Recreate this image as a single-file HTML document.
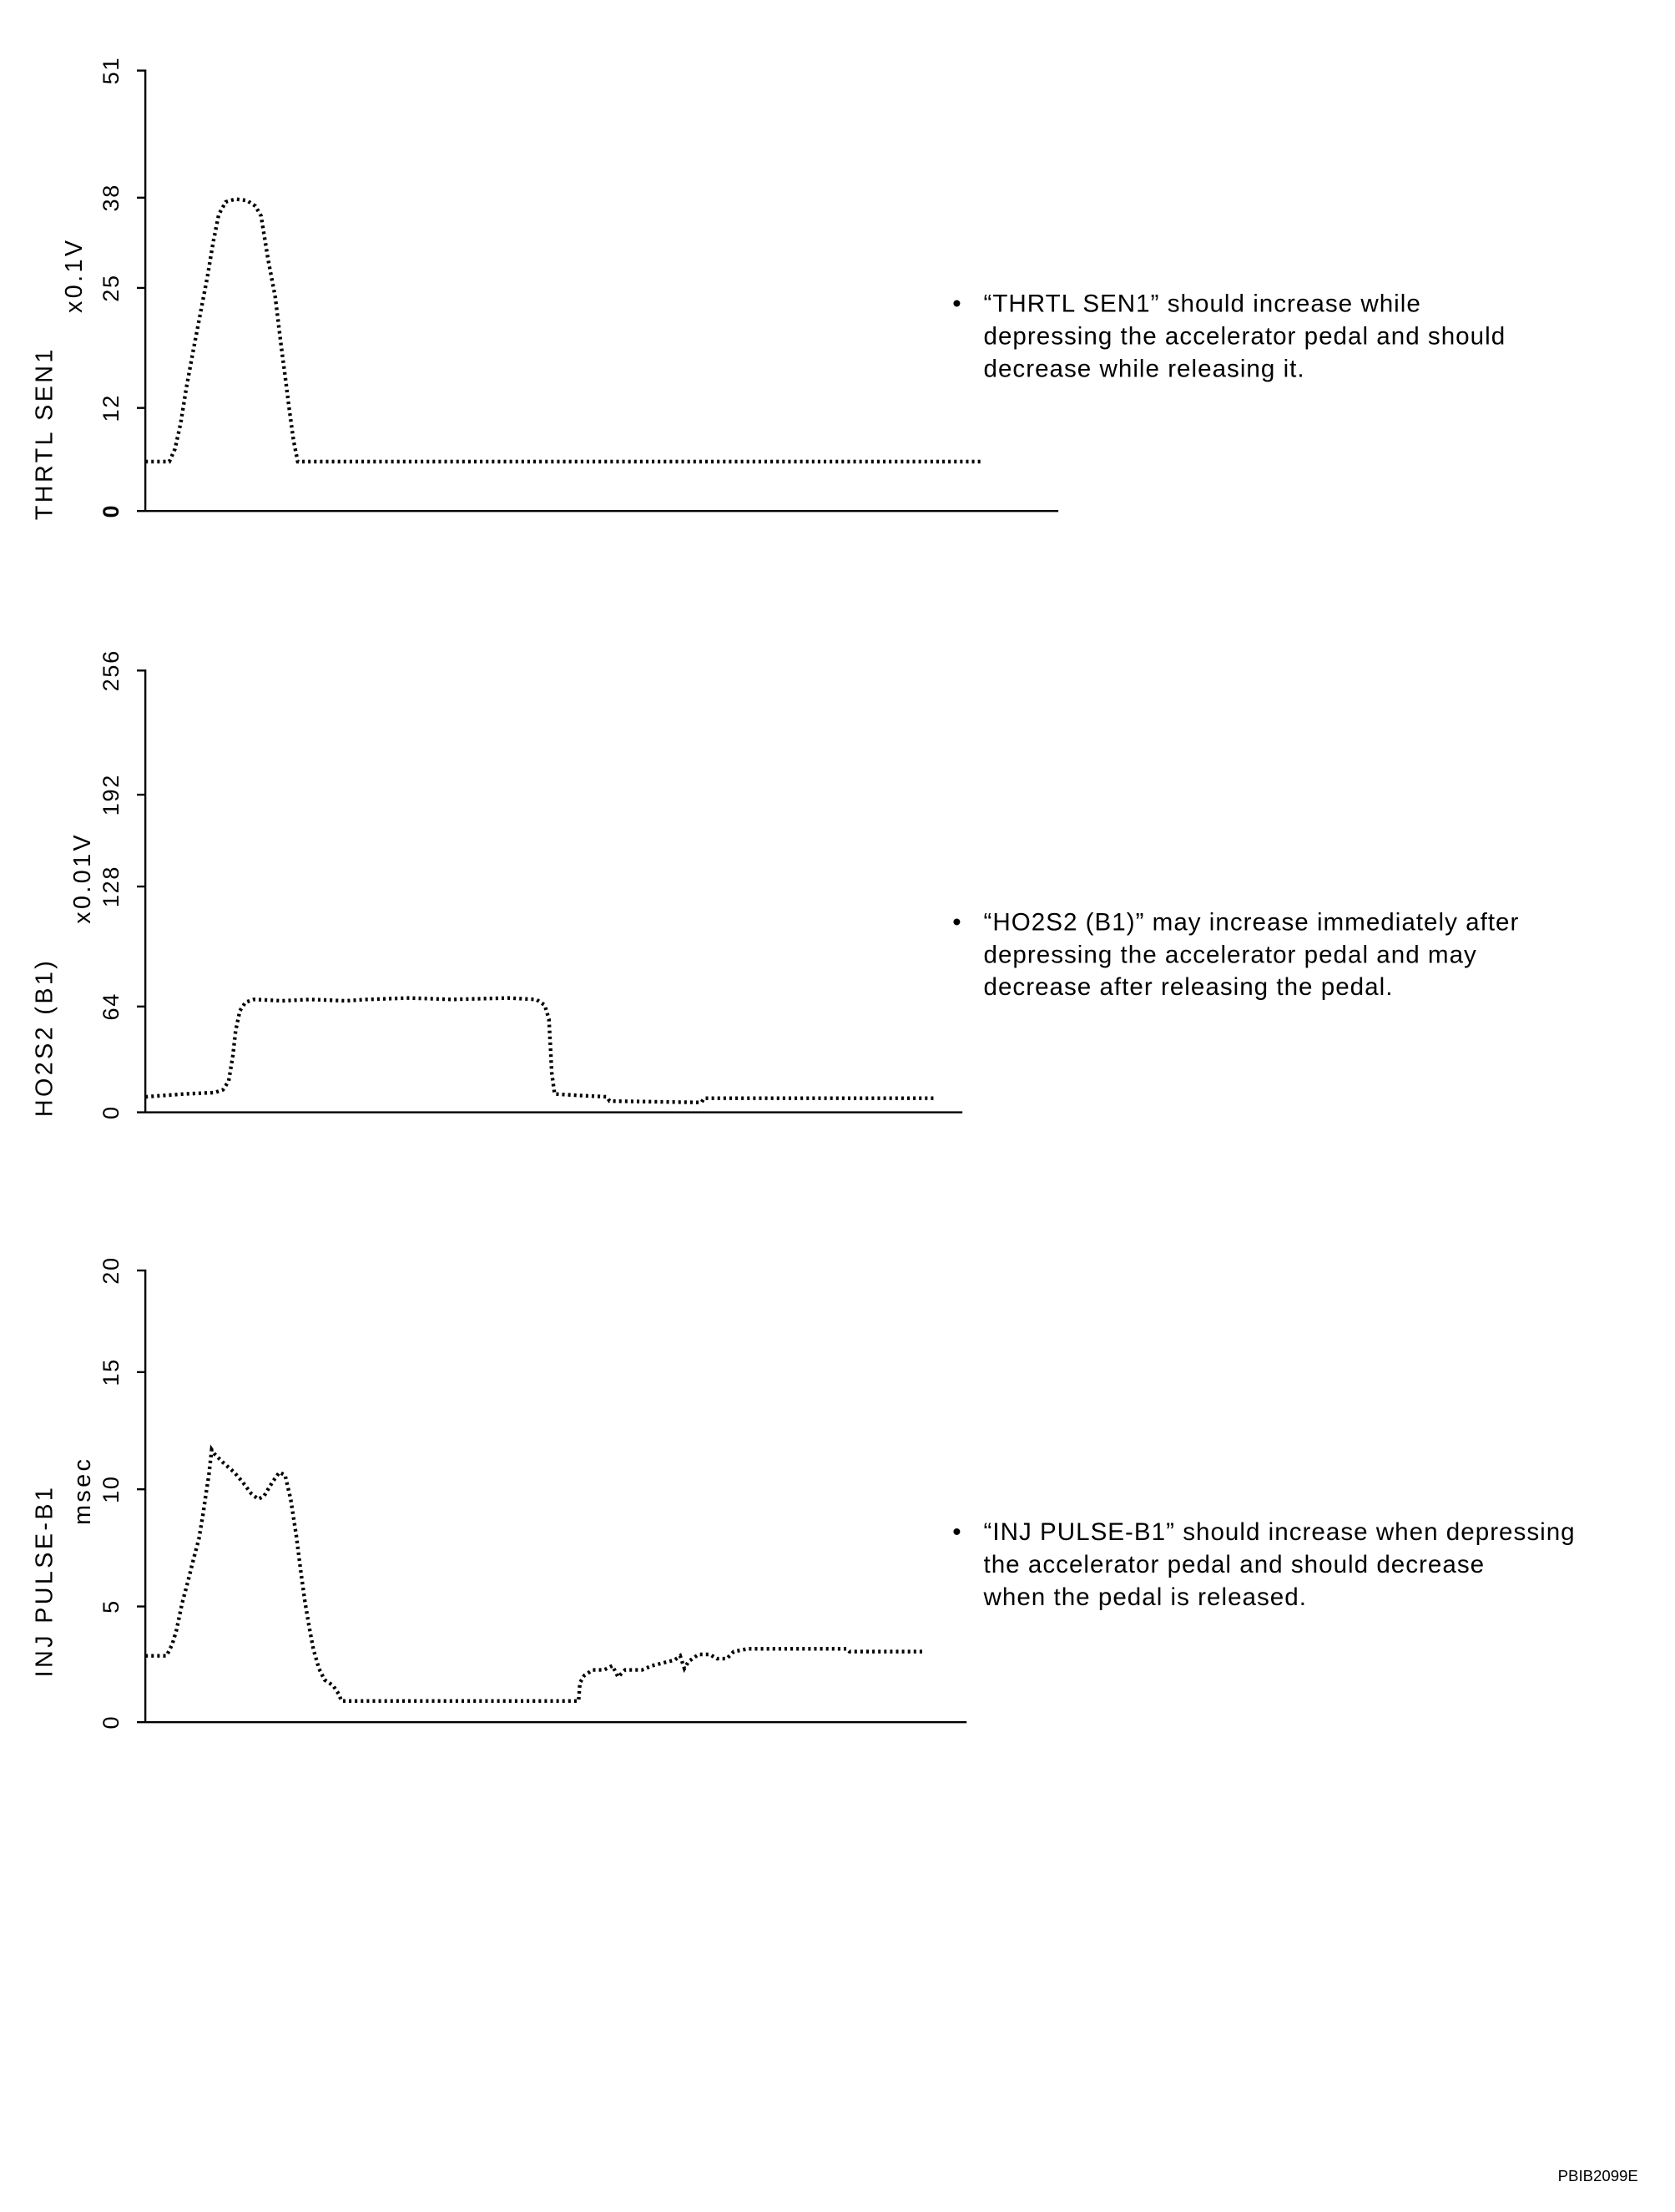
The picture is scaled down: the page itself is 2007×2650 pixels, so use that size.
<!DOCTYPE html>
<html><head><meta charset="utf-8"><style>
html,body{margin:0;padding:0;background:#fff}
svg{display:block}
text{font-family:"Liberation Sans",sans-serif;fill:#000}
.d{fill:none;stroke:#000;stroke-width:2.6;stroke-dasharray:1.8 2.4}
.ax{stroke:#000;stroke-width:1.4;fill:none}
.t{font-size:17.5px;letter-spacing:0.6px}
.tk{font-size:16px;letter-spacing:1px}
.lb{font-size:17px;letter-spacing:2px}
</style></head><body>
<svg width="2007" height="2650" viewBox="0 0 1187 1567" preserveAspectRatio="none" xmlns="http://www.w3.org/2000/svg">
<!-- Chart 1 -->
<path class="ax" d="M97 50H103V362H750M97 140H103M97 204H103M97 289H103M97 362H103"/>
<g class="tk">
<text transform="translate(84,50) rotate(-90)" text-anchor="middle">51</text>
<text transform="translate(84,140) rotate(-90)" text-anchor="middle">38</text>
<text transform="translate(84,204) rotate(-90)" text-anchor="middle">25</text>
<text transform="translate(84,289) rotate(-90)" text-anchor="middle">12</text>
<text transform="translate(84,362) rotate(-90)" text-anchor="middle" font-weight="bold">0</text>
</g>
<text class="lb" transform="translate(58,195) rotate(-90)" text-anchor="middle">x0.1V</text>
<text class="lb" transform="translate(37,307) rotate(-90)" text-anchor="middle">THRTL SEN1</text>
<path class="d" d="M103 327L120 327L124 318L128 300L132 275L137 248L142 222L147 196L151 172L155 152L160 143L167 141L175 142L181 146L185 153L190 184L195 210L199 243L202 266L205 290L208 312L211 327L695 327"/>
<text class="t" x="675" y="221">•</text>
<text class="t" x="697" y="221">“THRTL SEN1” should increase while</text>
<text class="t" x="697" y="244">depressing the accelerator pedal and should</text>
<text class="t" x="697" y="267">decrease while releasing it.</text>

<!-- Chart 2 -->
<path class="ax" d="M97 475H103V788H682M97 563H103M97 628H103M97 713H103M97 788H103"/>
<g class="tk">
<text transform="translate(84,475) rotate(-90)" text-anchor="middle">256</text>
<text transform="translate(84,563) rotate(-90)" text-anchor="middle">192</text>
<text transform="translate(84,628) rotate(-90)" text-anchor="middle">128</text>
<text transform="translate(84,713) rotate(-90)" text-anchor="middle">64</text>
<text transform="translate(84,788) rotate(-90)" text-anchor="middle">0</text>
</g>
<text class="lb" transform="translate(64,622) rotate(-90)" text-anchor="middle">x0.01V</text>
<text class="lb" transform="translate(37,735) rotate(-90)" text-anchor="middle">HO2S2 (B1)</text>
<path class="d" d="M103 777L130 775L152 774L158 772L162 766L165 748L167 730L170 716L174 710L180 708L200 709L220 708L245 709L260 708L290 707L320 708L360 707L380 708L386 712L389 722L390 740L391 760L393 775L410 776L430 777L432 780L497 781L499 778L662 778"/>
<text class="t" x="675" y="659">•</text>
<text class="t" x="697" y="659">“HO2S2 (B1)” may increase immediately after</text>
<text class="t" x="697" y="682">depressing the accelerator pedal and may</text>
<text class="t" x="697" y="705">decrease after releasing the pedal.</text>

<!-- Chart 3 -->
<path class="ax" d="M97 900H103V1220H685M97 972H103M97 1055H103M97 1138H103M97 1220H103"/>
<g class="tk">
<text transform="translate(84,900) rotate(-90)" text-anchor="middle">20</text>
<text transform="translate(84,972) rotate(-90)" text-anchor="middle">15</text>
<text transform="translate(84,1055) rotate(-90)" text-anchor="middle">10</text>
<text transform="translate(84,1138) rotate(-90)" text-anchor="middle">5</text>
<text transform="translate(84,1220) rotate(-90)" text-anchor="middle">0</text>
</g>
<text class="lb" transform="translate(64,1056) rotate(-90)" text-anchor="middle">msec</text>
<text class="lb" transform="translate(37,1120) rotate(-90)" text-anchor="middle">INJ PULSE-B1</text>
<path class="d" d="M103 1173L118 1173L122 1165L125 1155L129 1136L133 1121L137 1105L141 1090L144 1072L146 1058L148 1045L150 1027L152 1030L158 1036L166 1043L172 1050L178 1058L183 1062L187 1060L193 1050L198 1043L202 1045L206 1062L210 1088L213 1112L216 1134L219 1152L222 1168L226 1182L230 1190L236 1194L240 1200L242 1205L410 1205L411 1192L414 1187L420 1183L428 1183L434 1180L438 1188L443 1183L455 1183L462 1180L470 1178L478 1176L482 1173L485 1182L488 1177L495 1172L503 1172L508 1175L515 1175L520 1170L530 1168L600 1168L602 1170L655 1170"/>
<text class="t" x="675" y="1091">•</text>
<text class="t" x="697" y="1091">“INJ PULSE-B1” should increase when depressing</text>
<text class="t" x="697" y="1114">the accelerator pedal and should decrease</text>
<text class="t" x="697" y="1137">when the pedal is released.</text>

<text x="1104" y="1545" style="font-size:11px">PBIB2099E</text>
</svg>
</body></html>
